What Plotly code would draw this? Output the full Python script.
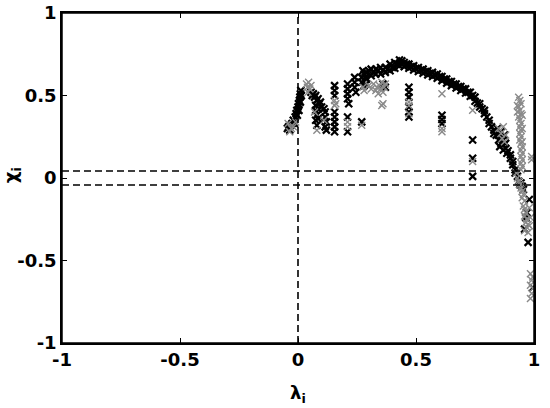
import plotly.graph_objects as go

# ---- data ----
# main arc (black markers)
arc_x = [0.27, 0.27, 0.28, 0.29, 0.29, 0.30, 0.31, 0.31, 0.32, 0.33, 0.33, 0.34, 0.35, 0.35, 0.36,
         0.37, 0.37, 0.38, 0.39, 0.39, 0.40, 0.41, 0.41, 0.42, 0.43, 0.43, 0.44, 0.44, 0.45, 0.45,
         0.46, 0.47, 0.47, 0.48, 0.49, 0.49, 0.50, 0.51, 0.51, 0.52, 0.53, 0.53, 0.54, 0.55, 0.55,
         0.56, 0.57, 0.57, 0.58, 0.59, 0.59, 0.60, 0.61, 0.61, 0.62, 0.63, 0.63, 0.64, 0.65, 0.65,
         0.66, 0.67, 0.67, 0.68, 0.69, 0.69, 0.70, 0.71, 0.71, 0.72, 0.73, 0.73, 0.74, 0.75, 0.75,
         0.76, 0.77, 0.77, 0.78, 0.79, 0.79, 0.80, 0.81, 0.81, 0.82, 0.83, 0.83, 0.84, 0.85, 0.85,
         0.86, 0.86, 0.87, 0.87, 0.88, 0.88, 0.89, 0.90, 0.90, 0.91, 0.91, 0.92, 0.92, 0.93, 0.935,
         0.94]
arc_y = [0.61, 0.58, 0.63, 0.64, 0.60, 0.65, 0.66, 0.62, 0.64, 0.66, 0.63, 0.65, 0.67, 0.63, 0.655,
         0.67, 0.64, 0.66, 0.69, 0.65, 0.67, 0.70, 0.665, 0.69, 0.715, 0.68, 0.71, 0.69, 0.70, 0.675,
         0.69, 0.69, 0.665, 0.675, 0.68, 0.655, 0.665, 0.67, 0.645, 0.655, 0.66, 0.635, 0.645, 0.65, 0.625,
         0.635, 0.64, 0.615, 0.625, 0.63, 0.605, 0.615, 0.615, 0.59, 0.60, 0.60, 0.575, 0.585, 0.585, 0.56,
         0.57, 0.57, 0.545, 0.555, 0.555, 0.53, 0.54, 0.54, 0.515, 0.52, 0.52, 0.495, 0.50, 0.49, 0.465,
         0.455, 0.45, 0.43, 0.42, 0.41, 0.39, 0.37, 0.35, 0.33, 0.31, 0.29, 0.27, 0.26, 0.26, 0.23,
         0.25, 0.21, 0.23, 0.20, 0.21, 0.18, 0.165, 0.14, 0.12, 0.10, 0.08, 0.05, 0.03, 0.01, -0.02,
         -0.04]

# other black markers (columns / clusters)
blk_x = [-0.045, -0.04, -0.035, -0.03, -0.025, -0.02, -0.015, -0.012, -0.008, -0.005,
         -0.003, 0.0, 0.002, 0.004, 0.006, 0.008, 0.01, 0.012, 0.014, 0.01,
         0.055, 0.06,
         0.065, 0.07, 0.075, 0.08, 0.085, 0.09, 0.095, 0.10,
         0.075, 0.075, 0.08, 0.075, 0.08, 0.085, 0.085,
         0.11, 0.115, 0.115, 0.12, 0.115, 0.12,
         0.155, 0.155, 0.155, 0.155, 0.155, 0.155, 0.155, 0.155,
         0.21, 0.21, 0.21, 0.21, 0.215, 0.21, 0.21,
         0.24, 0.24, 0.24, 0.245,
         0.27,
         0.275, 0.28, 0.285, 0.29,
         0.36, 0.37,
         0.47, 0.47, 0.47, 0.47, 0.47, 0.47,
         0.61, 0.61, 0.61,
         0.74, 0.74, 0.74,
         0.845, 0.86, 0.875, 0.87, 0.885, 0.855,
         0.945, 0.95, 0.955, 0.98, 0.97, 0.965, 0.975, 0.96, 0.995]
blk_y = [0.30, 0.31, 0.29, 0.32, 0.33, 0.35, 0.33, 0.37, 0.39, 0.41,
         0.38, 0.43, 0.45, 0.41, 0.47, 0.49, 0.51, 0.53, 0.50, 0.46,
         0.52, 0.50,
         0.51, 0.49, 0.50, 0.47, 0.48, 0.45, 0.46, 0.43,
         0.44, 0.41, 0.38, 0.35, 0.32, 0.42, 0.36,
         0.42, 0.40, 0.37, 0.34, 0.31, 0.29,
         0.56, 0.53, 0.50, 0.40, 0.37, 0.34, 0.31, 0.28,
         0.57, 0.54, 0.51, 0.48, 0.45, 0.37, 0.28,
         0.61, 0.58, 0.55, 0.52,
         0.34,
         0.65, 0.56, 0.61, 0.57,
         0.57, 0.55,
         0.55, 0.52, 0.49, 0.43, 0.40, 0.37,
         0.38, 0.355, 0.33,
         0.23, 0.12, 0.01,
         0.30, 0.28, 0.26, 0.17, 0.15, 0.19,
         -0.03, -0.05, -0.07, -0.13, -0.21, -0.24, -0.39, -0.31, -0.665]

# gray markers
gry_x = [-0.042, -0.035, -0.028, -0.02, -0.01,
         0.036, 0.04, 0.045, 0.05, 0.042, 0.055,
         0.08, 0.07, 0.11,
         0.155, 0.155, 0.16,
         0.21, 0.21,
         0.27,
         0.275, 0.28,
         0.30, 0.31, 0.32, 0.33, 0.335, 0.34, 0.345, 0.35, 0.355, 0.36, 0.365, 0.37, 0.36, 0.355,
         0.47, 0.47, 0.47,
         0.61, 0.61, 0.61,
         0.74, 0.74,
         0.85, 0.86, 0.87, 0.88, 0.865, 0.875,
         0.935, 0.94, 0.945, 0.935, 0.94, 0.945, 0.935, 0.94, 0.945, 0.94, 0.945, 0.94, 0.945, 0.94,
         0.945, 0.95, 0.945, 0.95, 0.945, 0.95, 0.945, 0.95, 0.945, 0.93, 0.93, 0.95, 0.95, 0.95,
         0.99, 0.99,
         0.925, 0.93, 0.935, 0.94, 0.945, 0.95, 0.955, 0.95, 0.96, 0.955, 0.96, 0.965, 0.96, 0.97,
         0.965, 0.975, 0.97, 0.96, 0.975, 0.98, 0.985, 0.98,
         0.985, 0.99, 0.985, 0.995, 0.99, 0.985, 0.995]
gry_y = [0.33, 0.28, 0.30, 0.31, 0.34,
         0.57, 0.55, 0.58, 0.54, 0.52, 0.56,
         0.29, 0.40, 0.35,
         0.47, 0.44, 0.45,
         0.34, 0.31,
         0.32,
         0.55, 0.53,
         0.56, 0.54, 0.57, 0.53, 0.55, 0.51, 0.56, 0.54, 0.58, 0.52, 0.55, 0.57, 0.45, 0.44,
         0.46, 0.44, 0.39,
         0.51, 0.30, 0.28,
         0.41, 0.10,
         0.30, 0.27, 0.31, 0.26, 0.24, 0.22,
         0.49, 0.47, 0.45, 0.43, 0.41, 0.39, 0.37, 0.35, 0.33, 0.31, 0.29, 0.27, 0.25, 0.23,
         0.21, 0.19, 0.17, 0.15, 0.13, 0.11, 0.09, 0.07, 0.05, 0.44, 0.40, 0.38, 0.30, 0.22,
         0.13, 0.11,
         0.03, 0.0, -0.02, -0.04, -0.06, -0.08, -0.10, -0.12, -0.14, -0.17, -0.19, -0.21, -0.23, -0.25,
         -0.27, -0.28, -0.30, -0.32, -0.33, -0.18, -0.24, -0.29,
         -0.58, -0.62, -0.65, -0.67, -0.70, -0.73, -0.60]

ref_band = [-0.042, 0.042]     # horizontal dashed lines
ref_vertical = 0.0             # vertical dashed line
tick_vals = [-1, -0.5, 0, 0.5, 1]
tick_text = ["-1", "-0.5", "0", "0.5", "1"]

black_x = arc_x + blk_x
black_y = arc_y + blk_y

fig = go.Figure()
fig.add_trace(go.Scatter(
    x=black_x, y=black_y, mode="markers", showlegend=False, hoverinfo="skip",
    marker=dict(symbol="x-thin", size=7, color="black",
                line=dict(width=2.2, color="black"))))
fig.add_trace(go.Scatter(
    x=gry_x, y=gry_y, mode="markers", showlegend=False, hoverinfo="skip",
    marker=dict(symbol="x-thin", size=7, color="#8a8a8a",
                line=dict(width=1.4, color="#8a8a8a"))))

dash = "7px,4px"
fig.add_shape(type="line", x0=ref_vertical, x1=ref_vertical, y0=-1, y1=1,
              line=dict(color="black", width=1.6, dash=dash))
for yv in ref_band:
    fig.add_shape(type="line", x0=-1, x1=1, y0=yv, y1=yv,
                  line=dict(color="black", width=1.6, dash=dash))
# plot-area box
fig.add_shape(type="rect", xref="paper", yref="paper", x0=0, x1=1, y0=0, y1=1,
              line=dict(color="black", width=1.5), layer="above")

tickfont = dict(family="DejaVu Sans", size=18, color="black", weight="bold")
axis_common = dict(range=[-1, 1], tickvals=tick_vals, ticktext=tick_text,
                   showgrid=False, zeroline=False, showline=True, automargin=False,
                   linecolor="black", linewidth=1.5, mirror="ticks",
                   ticks="inside", ticklen=5, tickwidth=1.2, tickcolor="black",
                   tickfont=tickfont)

fig.update_layout(
    template="none",
    width=550, height=408,
    margin=dict(l=62, r=16, t=13, b=65, pad=0),
    paper_bgcolor="white", plot_bgcolor="white",
    xaxis=dict(**axis_common),
    yaxis=dict(**axis_common),
    annotations=[
        dict(text="<b>λ<sub>i</sub></b>", x=0.5, y=-0.155, xref="paper", yref="paper",
             xanchor="center", yanchor="middle", showarrow=False,
             font=dict(family="DejaVu Sans", size=18, color="black")),
        dict(text="<b>χ<sub>i</sub></b>", x=-0.107, y=0.51, xref="paper", yref="paper",
             xanchor="center", yanchor="middle", showarrow=False, textangle=-90,
             font=dict(family="DejaVu Sans", size=18, color="black")),
    ],
)

fig.write_html("out.html", config={"displayModeBar": False},
               post_script="document.body.style.margin='0';document.body.style.padding='0';")
